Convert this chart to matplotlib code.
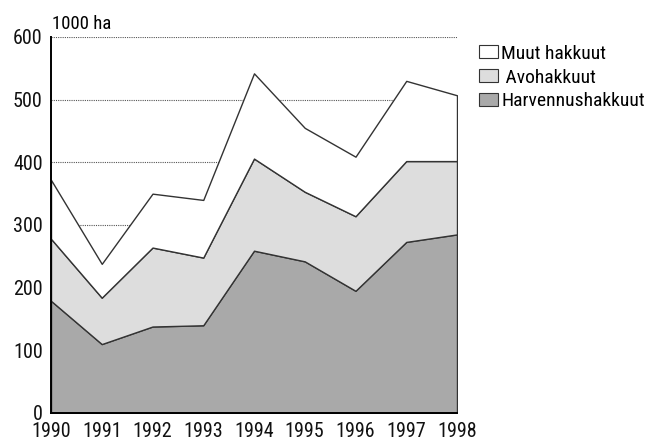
import matplotlib
matplotlib.use('Agg')
import matplotlib.pyplot as plt
from matplotlib.patches import Patch

plt.rcParams['font.family'] = ['Roboto Condensed', 'DejaVu Sans']

years = [1990, 1991, 1992, 1993, 1994, 1995, 1996, 1997, 1998]
# 1000 ha
harvennus = [179, 110, 138, 140, 259, 242, 195, 273, 285]
avo = [99, 74, 126, 108, 147, 111, 119, 129, 117]
muut = [94, 54, 86, 92, 136, 102, 95, 128, 105]
labels = ['Harvennushakkuut', 'Avohakkuut', 'Muut hakkuut']
colors = ['#a9a9a9', '#dddddd', '#ffffff']

fig = plt.figure(figsize=(6.58, 4.42), dpi=100)
ax = fig.add_axes([51 / 658, 1 - 413 / 442, 406 / 658, 376 / 442])

ax.stackplot(years, harvennus, avo, muut, colors=colors,
             edgecolor='#333333', linewidth=1.0, zorder=2)

ax.set_xlim(1990, 1998)
ax.set_ylim(0, 600)
ax.set_xticks(years)
ax.set_yticks([0, 100, 200, 300, 400, 500, 600])
ax.tick_params(length=0, labelsize=14.5, colors='#111111')
ax.tick_params(axis='x', pad=6.5)
ax.tick_params(axis='y', pad=6)
ax.grid(axis='y', linestyle=(0, (1, 1)), color='#555555', linewidth=0.8, zorder=0)
ax.set_axisbelow(True)
for s in ['top', 'right']:
    ax.spines[s].set_visible(False)
ax.spines['left'].set_linewidth(1.4)
ax.spines['bottom'].set_linewidth(1.4)
ax.spines['left'].set_zorder(3)
ax.spines['bottom'].set_zorder(3)

ax.text(0.003, 1.021, '1000 ha', transform=ax.transAxes, fontsize=13.5,
        ha='left', va='baseline')

handles = [Patch(facecolor=c, edgecolor='#333333', linewidth=0.8) for c in colors]
leg_labels = ['Muut hakkuut', ' Avohakkuut', 'Harvennushakkuut']
fig.legend(handles[::-1], leg_labels, loc='upper left',
           bbox_to_anchor=(469 / 658, 1 - 35 / 442), frameon=False,
           fontsize=14, handlelength=1.0, handleheight=0.65,
           handletextpad=0.15, labelspacing=0.3, borderpad=0)

fig.savefig('out.png', dpi=100)
